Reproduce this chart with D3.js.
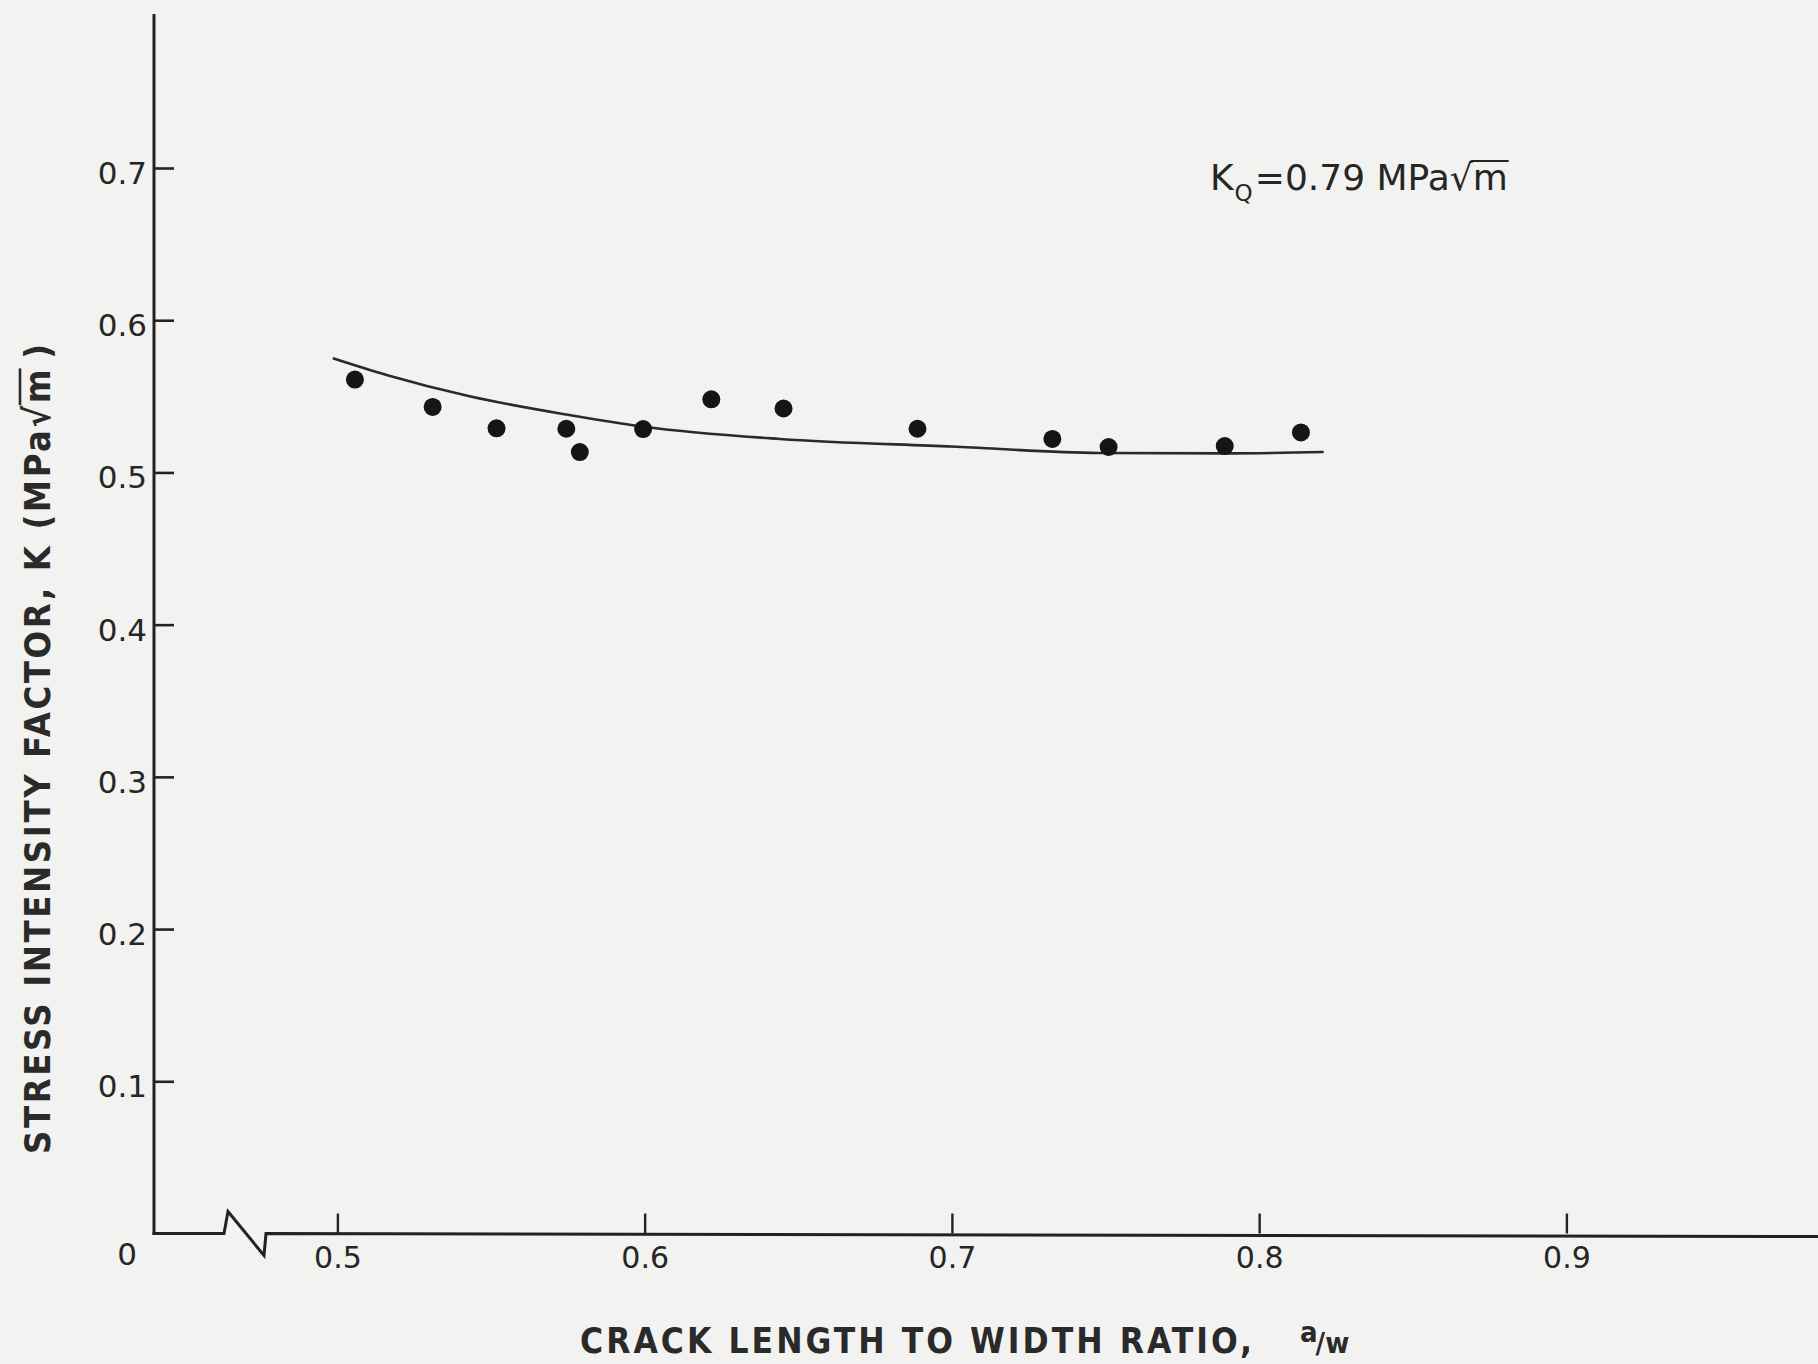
<!DOCTYPE html>
<html>
<head>
<meta charset="utf-8">
<script src="https://cdn.jsdelivr.net/npm/d3@7"></script>
<style>
  html, body { margin: 0; padding: 0; background: #f2f2f0; }
  svg { display: block; }
  text { font-family: "DejaVu Sans", sans-serif; fill: #262626; }
  .title { font-family: "DejaVu Sans Condensed", "DejaVu Sans", sans-serif; font-stretch: condensed; font-weight: bold; fill: #2a2a2a; }
</style>
</head>
<body>
<script>
// ---- data ----
const xTicks = [0.5, 0.6, 0.7, 0.8, 0.9];
const yTicks = [0.1, 0.2, 0.3, 0.4, 0.5, 0.6, 0.7];
const pointX = [0.5057, 0.531, 0.5518, 0.5745, 0.5789, 0.5995, 0.6217, 0.6452, 0.6888, 0.7327, 0.751, 0.7888, 0.8136];
const pointK = [0.561, 0.543, 0.529, 0.5287, 0.5134, 0.5285, 0.548, 0.542, 0.5287, 0.522, 0.5167, 0.5173, 0.5263];
const curveX = [0.4985, 0.516, 0.543, 0.5745, 0.5995, 0.644, 0.70, 0.748, 0.79, 0.821];
const curveK = [0.575, 0.564, 0.550, 0.538, 0.530, 0.522, 0.517, 0.5128, 0.5125, 0.5134];
const xTitle = "CRACK LENGTH TO WIDTH RATIO,";
const yTitleMain = "STRESS INTENSITY FACTOR, K (MPa\u221A";
const annotation = { k: "K", sub: "Q", rest: "=0.79 MPa\u221A" };

// ---- layout ----
const W = 1818, H = 1364;
const ink = "#222";
const svg = d3.select("body").append("svg").attr("width", W).attr("height", H);
svg.append("rect").attr("width", W).attr("height", H).attr("fill", "#f2f2f0");

const x = d3.scaleLinear().domain([0.5, 0.9]).range([337.4, 1566.4]);
const y = d3.scaleLinear().domain([0, 0.7]).range([1233.5, 168]);
const axisX0 = 154, yTop = 14;
const y0 = y(0);

// y axis
const yAxis = d3.axisLeft(y).tickValues(yTicks).tickSize(-20).tickPadding(7).tickFormat(d3.format(".1f"));
const gy = svg.append("g").attr("transform", `translate(${axisX0},0)`).call(yAxis);
gy.select(".domain").remove();
gy.selectAll(".tick line").attr("stroke", ink).attr("stroke-width", 2.6);
gy.selectAll(".tick text").attr("font-size", 31).attr("fill", "#262626").attr("font-family", "DejaVu Sans").attr("dy", "0.5em");
svg.append("line").attr("x1", axisX0).attr("x2", axisX0).attr("y1", yTop).attr("y2", y0 + 1.3)
  .attr("stroke", ink).attr("stroke-width", 3);

// x axis
const xAxis = d3.axisBottom(x).tickValues(xTicks).tickSize(-20).tickPadding(13).tickFormat(d3.format(".1f"));
const gx = svg.append("g").attr("transform", `translate(0,${y0})`).call(xAxis);
gx.select(".domain").remove();
gx.selectAll(".tick line").attr("stroke", ink).attr("stroke-width", 2.4);
gx.selectAll(".tick text").attr("font-size", 30).attr("fill", "#262626").attr("font-family", "DejaVu Sans");

// x axis line with break symbol
const brk = [[axisX0 - 1.5, y0], [224, y0], [228, y0 - 22], [264, y0 + 22], [266, y0], [W, y0 + 3]];
svg.append("path").attr("d", d3.line()(brk)).attr("fill", "none").attr("stroke", ink)
  .attr("stroke-width", 3).attr("stroke-linejoin", "miter");

// origin label
svg.append("text").attr("x", 127).attr("y", y0 + 31).attr("text-anchor", "middle")
  .attr("font-size", 31).text("0");

// fitted curve
const line = d3.line().x(d => x(d[0])).y(d => y(d[1])).curve(d3.curveMonotoneX);
svg.append("path").datum(curveX.map((v, i) => [v, curveK[i]]))
  .attr("d", line).attr("fill", "none").attr("stroke", "#2a2a2a").attr("stroke-width", 2.6);

// data points
svg.selectAll("circle.pt").data(pointX.map((v, i) => [v, pointK[i]])).enter()
  .append("circle").attr("class", "pt")
  .attr("cx", d => x(d[0])).attr("cy", d => y(d[1])).attr("r", 9).attr("fill", "#151515");

// annotation
const annY = 190;
const ann = svg.append("text").attr("x", 1210).attr("y", annY).attr("font-size", 36);
ann.append("tspan").text(annotation.k);
ann.append("tspan").attr("font-size", 23).attr("dy", 11).attr("dx", 1).text(annotation.sub);
ann.append("tspan").attr("dy", -11).attr("dx", 2).text(annotation.rest);
ann.append("tspan").text("m");
{
  const n = ann.text().length;
  const s = ann.node().getStartPositionOfChar(n - 1);
  const e = ann.node().getEndPositionOfChar(n - 1);
  svg.append("line").attr("x1", s.x - 2).attr("x2", e.x + 1).attr("y1", annY - 29).attr("y2", annY - 29)
    .attr("stroke", "#262626").attr("stroke-width", 2.2);
}

// x title
svg.append("text").attr("class", "title").attr("x", 580).attr("y", 1353).attr("font-size", 35)
  .attr("textLength", 672).attr("lengthAdjust", "spacing").text(xTitle);
const aw = svg.append("text").attr("class", "title").attr("x", 1300).attr("y", 1353).attr("font-size", 29);
aw.append("tspan").attr("dy", -11).text("a");
aw.append("tspan").attr("dy", 11).attr("dx", -2).text("/w");

// y title (rotated)
const gyt = svg.append("g").attr("transform", "translate(50,1154) rotate(-90)");
const yt = gyt.append("text").attr("class", "title").attr("x", 0).attr("y", 0).attr("font-size", 36)
  .attr("textLength", 810).attr("lengthAdjust", "spacing");
yt.append("tspan").text(yTitleMain);
yt.append("tspan").text("m");
yt.append("tspan").attr("dx", 8).text(")");
{
  const len = yTitleMain.length;
  const s = yt.node().getStartPositionOfChar(len);
  const e = yt.node().getEndPositionOfChar(len);
  gyt.append("line").attr("x1", s.x - 2).attr("x2", e.x + 1).attr("y1", -30).attr("y2", -30)
    .attr("stroke", "#2a2a2a").attr("stroke-width", 2.6);
}
</script>
</body>
</html>
